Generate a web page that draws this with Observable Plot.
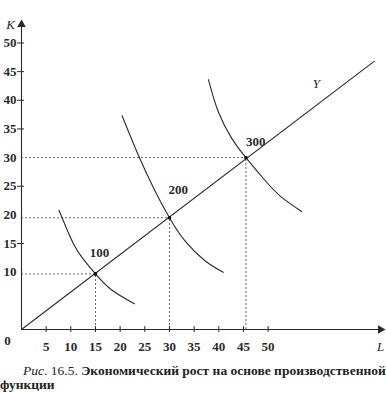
<!DOCTYPE html>
<html>
<head>
<meta charset="utf-8">
<script src="https://cdn.jsdelivr.net/npm/d3@7"></script>
<script src="https://cdn.jsdelivr.net/npm/@observablehq/plot@0.6"></script>
<style>
  body { margin: 0; background: #fff; }
  #cap { font-family: "Liberation Serif", serif; font-size: 13.5px; line-height: 14px; color: #222; padding-top: 8px; width: 386px; white-space: nowrap; overflow: hidden; }
  #cap .l1 { padding-left: 23px; }
</style>
</head>
<body>
<div id="chart"></div>
<div id="cap"><div class="l1"><i>Рис</i>. 16.5. <b>Экономический рост на основе производственной</b></div><div><b>функции</b></div></div>
<script>
// axis ticks
const xTicks = [5, 10, 15, 20, 25, 30, 35, 40, 45, 50];
const yTicks = [10, 15, 20, 25, 30, 35, 40, 45, 50];
const xMax = 73.4, yMax = 53.75;

// production line Y (endpoints)
const lineL = [0, 71.5];
const lineK = [0, 46.8];

// equilibrium points and their output levels
const outputs = [100, 200, 300];
const pointL = [15, 30, 45.5];
const pointK = [9.7, 19.5, 30];
const labelL = [15.8, 31.8, 47.5];
const labelK = [13.3, 24.4, 32.8];

// isoquants
const iso100L = [7.6, 10.5, 12.6, 15, 18.3, 22.9];
const iso100K = [20.8, 15.0, 12.2, 9.7, 6.9, 4.5];
const iso200L = [20.4, 23.7, 27.0, 30, 33.1, 37.2, 40.9];
const iso200K = [37.3, 30.4, 24.3, 19.5, 15.5, 12.0, 10.0];
const iso300L = [37.9, 39.9, 42.6, 45.5, 49.4, 52.7, 56.8];
const iso300K = [43.6, 38.0, 33.4, 30, 26.0, 23.1, 20.6];

const isoquants = [
  ...iso100L.map((L, i) => ({q: 100, L, K: iso100K[i]})),
  ...iso200L.map((L, i) => ({q: 200, L, K: iso200K[i]})),
  ...iso300L.map((L, i) => ({q: 300, L, K: iso300K[i]}))
];
const yLine = lineL.map((L, i) => ({L, K: lineK[i]}));
const points = outputs.map((q, i) => ({q, L: pointL[i], K: pointK[i], lL: labelL[i], lK: labelK[i]}));

const ink = "#2a2a2a";
const chart = Plot.plot({
  width: 386, height: 356,
  marginLeft: 21, marginRight: 3, marginTop: 21, marginBottom: 27,
  x: {domain: [0, xMax]},
  y: {domain: [0, yMax]},
  style: {fontFamily: "Liberation Serif, serif", fontSize: "13px", color: ink, background: "#fff"},
  marks: [
    // dashed guides
    Plot.ruleY(points, {y: "K", x1: 0, x2: "L", stroke: "#555", strokeDasharray: "2,2", strokeWidth: 0.9}),
    Plot.ruleX(points, {x: "L", y1: 0, y2: "K", stroke: "#555", strokeDasharray: "2,2", strokeWidth: 0.9}),
    // axes lines
    Plot.ruleX([0], {stroke: ink, strokeWidth: 1.1}),
    Plot.ruleY([0], {stroke: ink, strokeWidth: 1.1}),
    Plot.ruleX(xTicks, {x: d => d, y1: 0, y2: 0, insetTop: -3, insetBottom: -3, stroke: ink}),
    Plot.ruleY(yTicks.filter(d => d % 10 !== 0 || d >= 40), {y: d => d, x1: 0, x2: 0, insetLeft: -4, insetRight: -3, stroke: ink}),
    Plot.dot([{L: xMax, K: 0}], {x: "L", y: "K", symbol: "triangle", r: 3.2, fill: ink, stroke: "none", rotate: 90, dx: -3}),
    Plot.dot([{L: 0, K: yMax}], {x: "L", y: "K", symbol: "triangle", r: 3.2, fill: ink, stroke: "none", dy: 3}),
    Plot.axisX({ticks: xTicks, tickSize: 0, tickPadding: 12, fontSize: 13, fontWeight: "bold"}),
    Plot.axisY({ticks: yTicks, tickSize: 0, tickPadding: 5, fontSize: 13, fontWeight: "bold"}),
    Plot.text(["0"], {x: 0, y: 0, dx: -14, dy: 11, fontSize: 13, fontWeight: "bold"}),
    Plot.text(["K"], {x: 0, y: yMax, dx: -11, dy: 3, fontStyle: "italic", fontSize: 13}),
    Plot.text(["L"], {x: xMax, y: 0, dx: -3, dy: 17, fontStyle: "italic", fontSize: 13}),
    // production line
    Plot.line(yLine, {x: "L", y: "K", stroke: ink, strokeWidth: 1.1}),
    Plot.text(["Y"], {x: 59.8, y: 42.9, fontStyle: "italic", fontSize: 13}),
    // isoquants
    Plot.line(isoquants, {x: "L", y: "K", z: "q", curve: "natural", stroke: ink, strokeWidth: 1.1}),
    Plot.dot(points, {x: "L", y: "K", r: 1.8, fill: "#000"}),
    Plot.text(points, {x: "lL", y: "lK", text: d => String(d.q), fontSize: 13, fontWeight: "bold"})
  ]
});
document.getElementById("chart").append(chart);
</script>
</body>
</html>
